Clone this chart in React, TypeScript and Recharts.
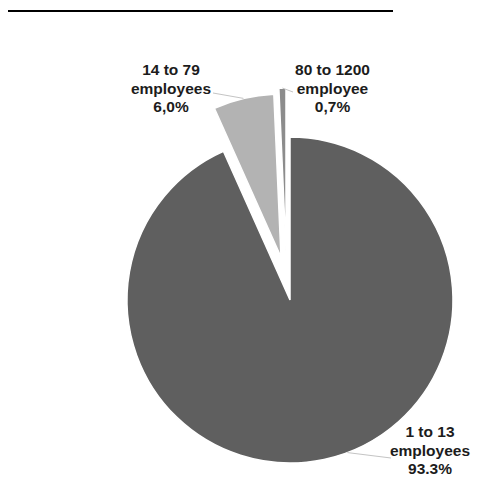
import React from "react";
import { PieChart, Pie, Cell } from "recharts";

// ---- data ----
const categories = ["1 to 13", "14 to 79", "80 to 1200"];
const units = ["employees", "employees", "employee"];
const shares = [93.3, 6.0, 0.7];
const shareLabels = ["93.3%", "6,0%", "0,7%"];

// ---- style / layout ----
const colors = ["#5f5f5f", "#b3b3b3", "#8c8c8c"];
const CENTER_X = 282;
const CENTER_Y = 292;
const RADIUS = 163;
const explodeOffsets = [
  [0, 0],
  [-9, -43],
  [-4, -49],
];
const labelLayout = [
  { x: 422, y: 429, endX: 383, endY: 450, clockAngle: 159.4 },
  { x: 163, y: 67, endX: 205, endY: 85, clockAngle: null },
  { x: 324.5, y: 67, endX: 285, endY: 84, clockAngle: null },
];
const LINE_GAP = 18.5;
const FONT = "'Liberation Sans', Arial, sans-serif";

const data = categories.map((c, i) => ({
  name: `${c} ${units[i]}`,
  value: shares[i],
}));

const RAD = Math.PI / 180;

function makeLabel(visible: number) {
  return (props: any) => {
    const { cx, cy, outerRadius, midAngle, index } = props;
    if (index !== visible) return null;
    const L = labelLayout[index];
    const ang = L.clockAngle != null ? 90 - L.clockAngle : midAngle;
    const sx = cx + outerRadius * Math.cos(-ang * RAD);
    const sy = cy + outerRadius * Math.sin(-ang * RAD);
    return (
      <g>
        <line x1={sx} y1={sy} x2={L.endX} y2={L.endY} stroke="#c4c4c4" strokeWidth={1} />
        <text
          x={L.x}
          y={L.y}
          textAnchor="middle"
          fontFamily={FONT}
          fontWeight="bold"
          fontSize={15.5}
          fill="#1c1c1c"
        >
          <tspan x={L.x} y={L.y}>{categories[index]}</tspan>
          <tspan x={L.x} y={L.y + LINE_GAP}>{units[index]}</tspan>
          <tspan x={L.x} y={L.y + 2 * LINE_GAP}>{shareLabels[index]}</tspan>
        </text>
      </g>
    );
  };
}

export default function App() {
  return (
    <div style={{ position: "relative", width: 472, height: 469, background: "#fff" }}>
      <style>{"html,body{overflow:hidden;}"}</style>
      <div
        style={{
          position: "absolute",
          left: 0,
          top: 2,
          width: 385,
          height: 2,
          background: "#000",
        }}
      />
      <PieChart width={472} height={469} margin={{ top: 0, right: 0, bottom: 0, left: 0 }}>
        {data.map((_, vis) => (
          <Pie
            key={vis}
            data={data}
            dataKey="value"
            nameKey="name"
            cx={CENTER_X + explodeOffsets[vis][0]}
            cy={CENTER_Y + explodeOffsets[vis][1]}
            outerRadius={RADIUS}
            innerRadius={0}
            startAngle={90}
            endAngle={-270}
            isAnimationActive={false}
            labelLine={false}
            label={makeLabel(vis)}
          >
            {data.map((__, i) => (
              <Cell
                key={i}
                fill={i === vis ? colors[i] : "transparent"}
                stroke={i === vis ? "#ffffff" : "none"}
                strokeWidth={i === vis ? 1.5 : 0}
              />
            ))}
          </Pie>
        ))}
      </PieChart>
    </div>
  );
}
